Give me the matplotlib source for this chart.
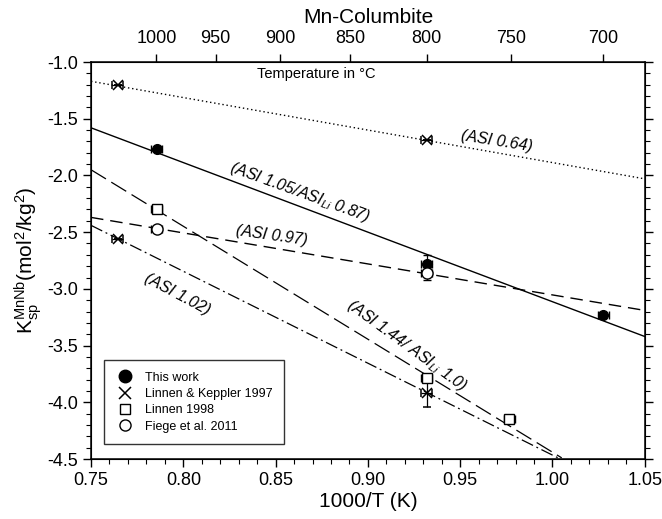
import numpy as np
import matplotlib
matplotlib.use("Agg")
import matplotlib.pyplot as plt
from matplotlib.ticker import MultipleLocator, FixedLocator

plt.rcParams["font.family"] = ["Liberation Sans", "DejaVu Sans"]
plt.rcParams["mathtext.fontset"] = "custom"
plt.rcParams["mathtext.rm"] = "Liberation Sans"
plt.rcParams["mathtext.it"] = "Liberation Sans:italic"

# data points (1000/T, log K)
this_x = [0.7855, 0.9318, 1.0276]
this_y = [-1.77, -2.78, -3.23]
this_yerr = [0.0, 0.08, 0.0]

lk_x = [0.7645, 0.9318, 0.7645, 0.9318]
lk_y = [-1.20, -1.69, -2.56, -3.92]
lk_yerr = [0.0, 0.0, 0.0, 0.12]

lin_x = [0.7855, 0.9318, 0.9766]
lin_y = [-2.30, -3.79, -4.15]

fie_x = [0.7855, 0.9318]
fie_y = [-2.47, -2.86]

# fitted lines (end points)
dot_x, dot_y = [0.75, 1.05], [-1.17, -2.03]
sol_x, sol_y = [0.75, 1.05], [-1.58, -3.42]
dash_x, dash_y = [0.75, 1.05], [-2.37, -3.19]
ldash_x, ldash_y = [0.75, 1.005], [-1.95, -4.49]
dd_x, dd_y = [0.75, 1.003], [-2.44, -4.49]

temps_c = [1000, 950, 900, 850, 800, 750, 700]

fig = plt.figure(figsize=(6.62, 5.19), dpi=100)
ax = fig.add_axes([0.1375, 0.1156, 0.8365, 0.7649])

ax.plot(dot_x, dot_y, color="black", lw=1.0, ls=(0, (1, 2.0)))
ax.plot(sol_x, sol_y, color="black", lw=1.0, ls="-")
ax.plot(dash_x, dash_y, color="black", lw=1.0, ls=(0, (9, 5)))
ax.plot(ldash_x, ldash_y, color="black", lw=0.9, ls=(0, (14, 5)))
ax.plot(dd_x, dd_y, color="black", lw=0.9, ls=(0, (10, 3, 1.5, 3)))

ax.errorbar(this_x, this_y, yerr=this_yerr, xerr=0.003, fmt="o", color="black",
            ms=7, capsize=3, elinewidth=0.9, zorder=5)
ax.errorbar(lk_x, lk_y, yerr=lk_yerr, xerr=0.003, fmt="x", color="black",
            ms=7, mew=1.1, capsize=3, elinewidth=0.9, zorder=5)
ax.errorbar(lin_x, lin_y, xerr=0.003, fmt="s", color="black", mfc="white",
            ms=7, mew=1.0, capsize=3, elinewidth=0.9, zorder=5)
ax.errorbar(fie_x, fie_y, yerr=[0, 0.06], xerr=0.003, fmt="o", color="black",
            mfc="white", ms=8, mew=1.0, capsize=3, elinewidth=0.9, zorder=5)

lfs = 11.5
ax.text(0.970, -1.70, "(ASI 0.64)", fontsize=lfs, style="italic", rotation=-9,
        ha="center", va="center")
ax.text(0.863, -2.15, "(ASI 1.05/ASI$_{Li}$ 0.87)", fontsize=lfs, style="italic",
        rotation=-20, ha="center", va="center")
ax.text(0.848, -2.53, "(ASI 0.97)", fontsize=lfs, style="italic", rotation=-8,
        ha="center", va="center")
ax.text(0.797, -3.05, "(ASI 1.02)", fontsize=lfs, style="italic", rotation=-28,
        ha="center", va="center")
ax.text(0.921, -3.50, "(ASI 1.44/ ASI$_{Li}$ 1.0)", fontsize=lfs, style="italic",
        rotation=-36, ha="center", va="center")
ax.text(0.872, -1.11, "Temperature in \u00b0C", fontsize=10.5, ha="center", va="center")

ax.set_xlim(0.75, 1.05)
ax.set_ylim(-4.5, -1.0)
ax.xaxis.set_major_locator(MultipleLocator(0.05))
ax.xaxis.set_minor_locator(MultipleLocator(0.01))
ax.yaxis.set_major_locator(MultipleLocator(0.5))
ax.yaxis.set_minor_locator(MultipleLocator(0.1))
ax.xaxis.set_major_formatter(plt.FormatStrFormatter("%.2f"))
ax.yaxis.set_major_formatter(plt.FormatStrFormatter("%.1f"))
ax.tick_params(which="both", direction="out", right=True, labelsize=13)
ax.tick_params(which="major", length=6, width=1)
ax.tick_params(which="minor", length=3.5, width=0.8)
ax.set_xlabel("1000/T (K)", fontsize=15, labelpad=2)
ax.set_ylabel(r"K$_{\mathrm{sp}}^{\mathrm{MnNb}}$(mol$^{2}$/kg$^{2}$)", fontsize=15, labelpad=2)
for s in ax.spines.values():
    s.set_linewidth(1.1)

top = ax.twiny()
top.set_xlim(ax.get_xlim())
top.xaxis.set_major_locator(FixedLocator([1000.0 / (t + 273.15) for t in temps_c]))
top.set_xticklabels([str(t) for t in temps_c])
top.tick_params(direction="out", length=6, width=1, labelsize=13, pad=5)
top.set_xlabel("Mn-Columbite", fontsize=15, labelpad=5)

h = [
    plt.Line2D([], [], marker="o", ls="none", color="black", ms=9),
    plt.Line2D([], [], marker="x", ls="none", color="black", ms=8, mew=1.1),
    plt.Line2D([], [], marker="s", ls="none", color="black", mfc="white", ms=7),
    plt.Line2D([], [], marker="o", ls="none", color="black", mfc="white", ms=8),
]
leg = ax.legend(h, ["This work", "Linnen & Keppler 1997", "Linnen 1998", "Fiege et al. 2011"],
                loc="lower left", bbox_to_anchor=(0.012, 0.022), fontsize=9,
                frameon=True, fancybox=False, edgecolor="black", borderpad=0.9,
                handlelength=1.6, handletextpad=0.8, labelspacing=0.35,
                borderaxespad=0.5)
leg.get_frame().set_linewidth(1.0)

fig.savefig("out.png", dpi=100)
